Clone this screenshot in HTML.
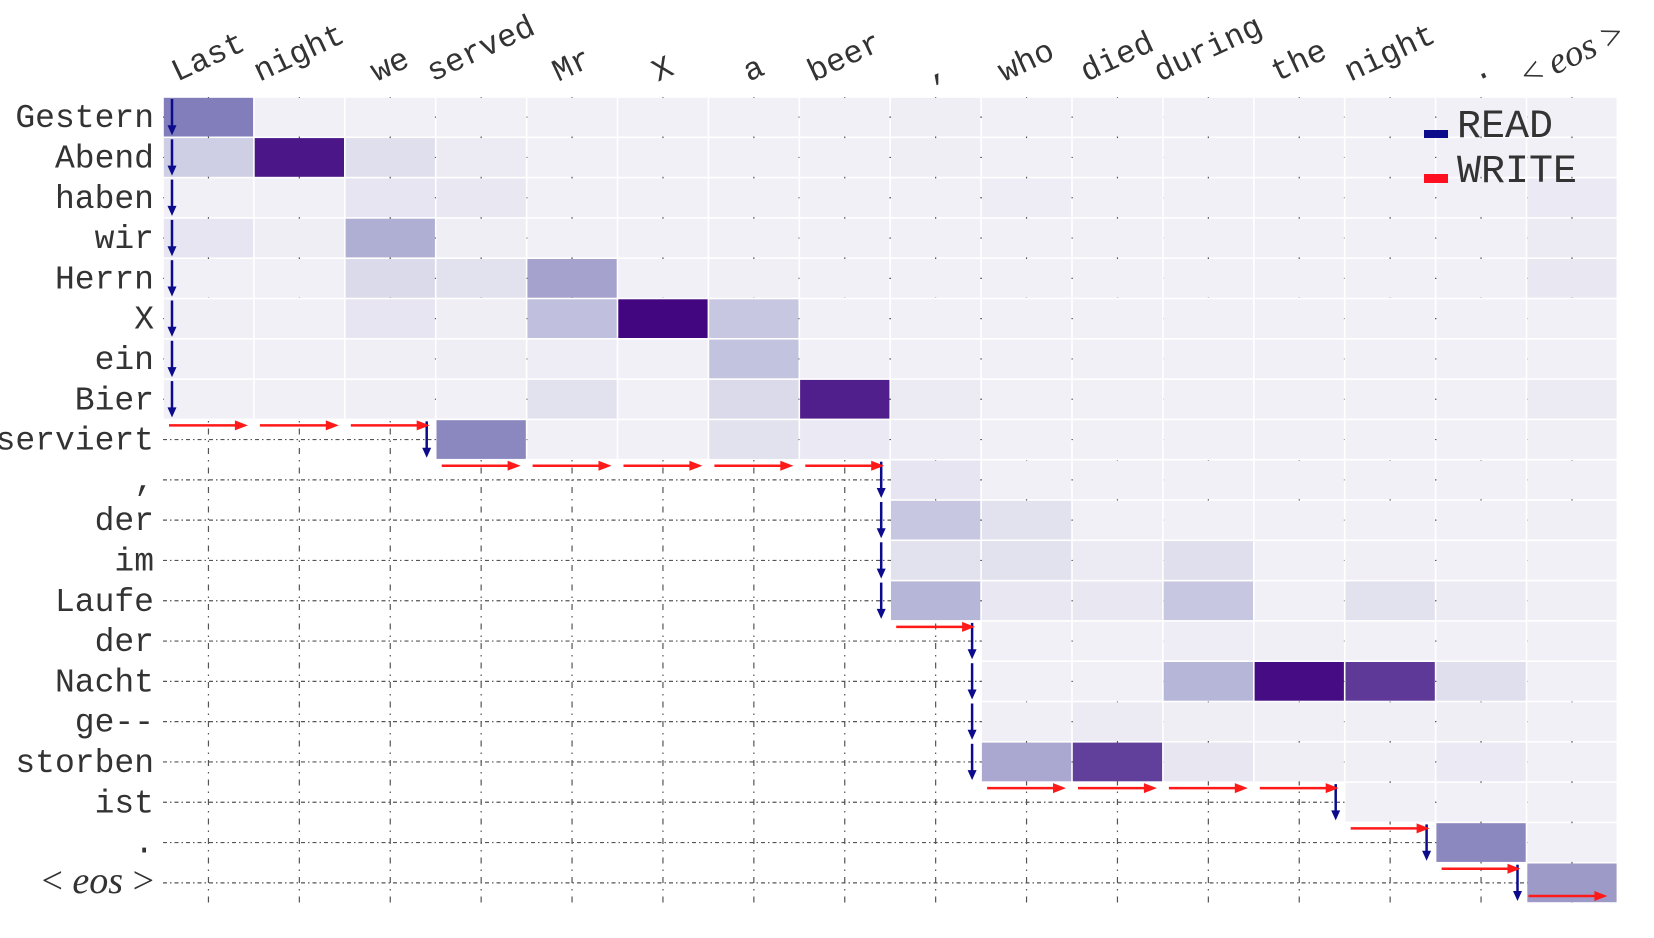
<!DOCTYPE html>
<html><head><meta charset="utf-8"><style>
html,body{margin:0;padding:0;background:#fff;}
svg{display:block;}
</style></head><body>
<svg id="chart" width="1654" height="938" viewBox="0 0 1654 938" xmlns="http://www.w3.org/2000/svg">
<g id="grid"></g>
<g id="cells"></g>
<g id="arrows"></g>
<g id="xlabels"></g>
<g id="ylabels"></g>
<g>
  <rect x="1424" y="130" width="24" height="8" fill="#0b0b8c"/>
  <text x="1457" y="137" font-family="Liberation Mono, monospace" font-size="40" fill="#333">READ</text>
  <rect x="1424" y="174" width="24" height="9" fill="#ff1020"/>
  <text x="1457" y="182" font-family="Liberation Mono, monospace" font-size="40" fill="#333">WRITE</text>
</g>
</svg>
<script>
const srcWords = ["Last","night","we","served","Mr","X","a","beer",",","who","died","during","the","night",".","<eos>"];
const tgtWords = ["Gestern","Abend","haben","wir","Herrn","X","ein","Bier","serviert",",","der","im","Laufe","der","Nacht","ge--","storben","ist",".","<eos>"];
// number of source words read before each target word is written (first visible column index)
const readStart = [0,0,0,0,0,0,0,0,3,8,8,8,8,9,9,9,9,13,14,15];
// attention values, row per target word
const attn = [
[0.62,0.1,0.1,0.1,0.1,0.1,0.1,0.1,0.12,0.1,0.1,0.1,0.1,0.1,0.1,0.1],
[0.30,0.93,0.22,0.14,0.1,0.1,0.1,0.1,0.12,0.1,0.1,0.1,0.1,0.1,0.1,0.1],
[0.1,0.1,0.18,0.16,0.1,0.1,0.1,0.1,0.1,0.13,0.1,0.1,0.1,0.1,0.1,0.15],
[0.18,0.12,0.43,0.12,0.1,0.1,0.1,0.1,0.1,0.1,0.1,0.1,0.1,0.1,0.1,0.14],
[0.1,0.1,0.25,0.2,0.47,0.1,0.11,0.1,0.1,0.1,0.1,0.1,0.1,0.1,0.1,0.16],
[0.11,0.1,0.18,0.12,0.36,0.98,0.33,0.1,0.1,0.1,0.1,0.1,0.1,0.1,0.1,0.1],
[0.1,0.1,0.11,0.12,0.13,0.1,0.35,0.1,0.1,0.1,0.1,0.1,0.1,0.1,0.1,0.1],
[0.1,0.1,0.11,0.1,0.2,0.1,0.25,0.9,0.14,0.1,0.1,0.1,0.1,0.1,0.1,0.14],
[0,0,0,0.58,0.1,0.1,0.2,0.15,0.13,0.1,0.1,0.1,0.1,0.1,0.1,0.11],
[0,0,0,0,0,0,0,0,0.18,0.1,0.1,0.1,0.1,0.1,0.1,0.1],
[0,0,0,0,0,0,0,0,0.33,0.2,0.1,0.1,0.1,0.1,0.1,0.11],
[0,0,0,0,0,0,0,0,0.2,0.2,0.14,0.22,0.1,0.11,0.1,0.1],
[0,0,0,0,0,0,0,0,0.4,0.16,0.16,0.33,0.1,0.2,0.14,0.11],
[0,0,0,0,0,0,0,0,0,0.1,0.1,0.13,0.11,0.1,0.1,0.1],
[0,0,0,0,0,0,0,0,0,0.1,0.1,0.4,0.96,0.82,0.22,0.1],
[0,0,0,0,0,0,0,0,0,0.11,0.14,0.12,0.11,0.11,0.12,0.1],
[0,0,0,0,0,0,0,0,0,0.45,0.8,0.17,0.12,0.11,0.15,0.1],
[0,0,0,0,0,0,0,0,0,0,0,0,0,0.1,0.1,0.1],
[0,0,0,0,0,0,0,0,0,0,0,0,0,0,0.58,0.1],
[0,0,0,0,0,0,0,0,0,0,0,0,0,0,0,0.5]
];

const NS="http://www.w3.org/2000/svg";
const X0=163, CW=90.9, Y0=97, RH=40.3;
const nCols=srcWords.length, nRows=tgtWords.length;
const xPos = c => X0 + c*CW;
const yPos = r => Y0 + r*RH;
const stops=[[0,[252,251,253]],[0.125,[239,237,245]],[0.25,[218,218,235]],[0.375,[188,189,220]],[0.5,[158,154,200]],[0.625,[128,125,186]],[0.75,[106,81,163]],[0.875,[84,39,143]],[1,[63,0,125]]];
function purples(v){v=Math.max(0,Math.min(1,v));for(let i=1;i<stops.length;i++){if(v<=stops[i][0]){const a=stops[i-1],b=stops[i];const t=(v-a[0])/(b[0]-a[0]);const c=a[1].map((x,k)=>Math.round(x+(b[1][k]-x)*t));return `rgb(${c.join(',')})`;}}return 'rgb(63,0,125)';}
function mk(tag,attrs,parent){const e=document.createElementNS(NS,tag);for(const k in attrs)e.setAttribute(k,attrs[k]);parent.appendChild(e);return e;}

// dotted grid
const grid=document.getElementById('grid');
for(let r=0;r<nRows;r++){
  const l=mk('line',{x1:X0,x2:X0+nCols*CW,y1:yPos(r)+RH/2,y2:yPos(r)+RH/2,stroke:'#555','stroke-width':1.2,'stroke-dasharray':'4 3 1.5 3'},grid);
  
  
}
for(let c=0;c<nCols;c++){
  const l=mk('line',{x1:xPos(c)+CW/2,x2:xPos(c)+CW/2,y1:Y0,y2:Y0+nRows*RH+4,stroke:'#555','stroke-width':1.2,'stroke-dasharray':'6 6 1.5 6'},grid);
  
  
}
// cells
const cells=document.getElementById('cells');
for(let r=0;r<nRows;r++){
  for(let c=readStart[r];c<nCols;c++){
    const rc=mk('rect',{x:xPos(c)+0.8,y:yPos(r)+0.8,width:CW-1.6,height:RH-1.6,fill:purples(attn[r][c])},cells);
    
    
  }
}
// arrows
const arrows=document.getElementById('arrows');
const BLUE='#0b0b8c', RED='#ff1a1a';
function readArrow(x,yt,yb){
  const g=mk('g',{},arrows);
  
  
  mk('line',{x1:x,x2:x,y1:yt,y2:yb-9,stroke:BLUE,'stroke-width':2.5},g);
  mk('polygon',{points:`${x-4.5},${yb-10} ${x+4.5},${yb-10} ${x},${yb}`,fill:BLUE},g);
}
function writeArrow(x1,x2,y){
  const g=mk('g',{},arrows);
  
  
  mk('line',{x1:x1,x2:x2-12,y1:y,y2:y,stroke:RED,'stroke-width':2.5},g);
  mk('polygon',{points:`${x2-13},${y-5} ${x2-13},${y+5} ${x2},${y}`,fill:RED},g);
}
for(let r=0;r<nRows;r++){
  const x = readStart[r]===0 ? X0+9 : xPos(readStart[r])-9;
  readArrow(x,yPos(r)+2,yPos(r)+RH-2);
  const prev = r===0?0:readStart[r-1];
  if(r>0 && readStart[r]>prev){
    for(let c=prev;c<readStart[r];c++) writeArrow(xPos(c)+6,xPos(c)+CW-6,yPos(r)+6);
  }
}
writeArrow(xPos(nCols-1)+2,xPos(nCols-1)+CW-10,yPos(nRows-1)+RH-7);

// y labels
const yl=document.getElementById('ylabels');
tgtWords.forEach((w,r)=>{
  const t=mk('text',{x:154,y:yPos(r)+RH/2+10,'text-anchor':'end','font-family':'Liberation Mono, monospace','font-size':33,fill:'#333'},yl);
  
  
  if(w==='<eos>'){
    mk('tspan',{'font-family':'Liberation Serif, serif','font-size':38},t).textContent='< ';
    mk('tspan',{'font-family':'Liberation Serif, serif','font-style':'italic','font-size':38},t).textContent='eos';
    mk('tspan',{'font-family':'Liberation Serif, serif','font-size':38},t).textContent=' >';
  } else t.textContent=w;
});
// x labels
const xl=document.getElementById('xlabels');
const FS=32, ANG=25, s=Math.sin(ANG*Math.PI/180), co=Math.cos(ANG*Math.PI/180);
srcWords.forEach((w,c)=>{
  const n = w==='<eos>'?5:w.length;
  const wd=n*0.6*FS;
  const cx=xPos(c)+CW/2;
  const cy=85-(wd*s+FS*0.75*co)/2;
  const t=mk('text',{x:0,y:0,'text-anchor':'middle','dominant-baseline':'central','font-family':'Liberation Mono, monospace','font-size':FS,fill:'#333',transform:`translate(${cx},${cy}) rotate(${-ANG})`},xl);
  
  
  if(w==='<eos>'){
    mk('tspan',{'font-family':'Liberation Serif, serif','font-size':37},t).textContent='< ';
    mk('tspan',{'font-family':'Liberation Serif, serif','font-style':'italic','font-size':37},t).textContent='eos';
    mk('tspan',{'font-family':'Liberation Serif, serif','font-size':37},t).textContent=' >';
  } else t.textContent=w;
});
</script>
</body></html>
